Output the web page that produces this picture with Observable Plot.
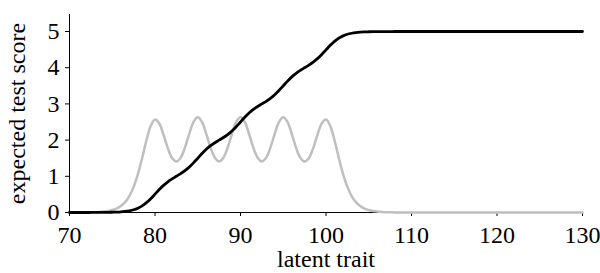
<!DOCTYPE html>
<html><head><meta charset="utf-8">
<script src="https://cdn.jsdelivr.net/npm/d3@7"></script>
<script src="https://cdn.jsdelivr.net/npm/@observablehq/plot@0.6"></script>
<style>body{margin:0;background:#fff} svg{display:block}</style>
</head><body><div id="chart"></div>
<script>
const trait = [70,70.5,71,71.5,72,72.5,73,73.5,74,74.5,75,75.5,76,76.5,77,77.5,78,78.5,79,79.5,
  80,80.5,81,81.5,82,82.5,83,83.5,84,84.5,85,85.5,86,86.5,87,87.5,88,88.5,89,89.5,
  90,90.5,91,91.5,92,92.5,93,93.5,94,94.5,95,95.5,96,96.5,97,97.5,98,98.5,99,99.5,
  100,100.5,101,101.5,102,102.5,103,103.5,104,104.5,105,105.5,106,106.5,107,107.5,108,108.5,109,109.5,110,130];
const information = [0.000,0.001,0.001,0.002,0.003,0.006,0.009,0.015,0.025,0.041,0.067,0.109,0.178,0.287,0.455,0.707,1.059,1.507,1.991,2.391,
  2.567,2.459,2.144,1.778,1.505,1.408,1.511,1.791,2.167,2.499,2.634,2.500,2.169,1.793,1.514,1.413,1.514,1.793,2.169,2.500,
  2.634,2.500,2.169,1.793,1.514,1.413,1.514,1.793,2.169,2.500,2.634,2.499,2.167,1.791,1.511,1.408,1.505,1.778,2.144,2.459,
  2.567,2.391,1.991,1.507,1.059,0.707,0.455,0.287,0.178,0.109,0.067,0.041,0.025,0.015,0.009,0.006,0.003,0.002,0.001,0.001,0.000,0.000];
const expectedScore = [0.000,0.000,0.000,0.000,0.000,0.001,0.001,0.002,0.002,0.004,0.007,0.011,0.018,0.030,0.048,0.076,0.120,0.184,0.271,0.382,
  0.507,0.634,0.749,0.847,0.929,1.001,1.073,1.155,1.253,1.371,1.500,1.629,1.747,1.846,1.928,2.000,2.072,2.154,2.253,2.371,
  2.500,2.629,2.747,2.846,2.928,3.000,3.072,3.154,3.253,3.371,3.500,3.629,3.747,3.845,3.927,3.999,4.071,4.153,4.251,4.367,
  4.493,4.618,4.729,4.816,4.880,4.924,4.952,4.971,4.982,4.989,4.993,4.996,4.998,4.998,4.999,4.999,5.000,5.000,5.000,5.000,5.000,5.000];
const xTicks = [70,80,90,100,110,120,130];
const yTicks = [0,1,2,3,4,5];
const xLabel = "latent trait";
const yLabel = "expected test score";

const rows = trait.map((t, i) => ({t, info: information[i], score: expectedScore[i]}));
const font = "'Liberation Serif', 'Times New Roman', serif";

const chart = Plot.plot({
  width: 600, height: 273,
  marginLeft: 69, marginRight: 18, marginTop: 14, marginBottom: 61,
  style: {fontFamily: font, fontSize: "24px", background: "#fff", color: "#000"},
  x: {domain: [70, 130]},
  y: {domain: [0, 5.47]},
  marks: [
    Plot.axisX({ticks: xTicks, tickFormat: d => String(d), tickSize: 4, tickPadding: 9, label: null, fontSize: 24}),
    Plot.axisY({ticks: yTicks, tickFormat: d => String(d), tickSize: 4, tickPadding: 6, label: null, fontSize: 24}),
    Plot.ruleY([0], {stroke: "#000", strokeWidth: 1}),
    Plot.ruleX([70], {stroke: "#000", strokeWidth: 1}),
    Plot.line(rows, {x: "t", y: "info", stroke: "#bfbfbf", strokeWidth: 2.5, curve: "catmull-rom"}),
    Plot.line(rows, {x: "t", y: "score", stroke: "#000", strokeWidth: 2.8, curve: "catmull-rom"}),
    Plot.text([xLabel], {text: d => d, frameAnchor: "bottom", textAnchor: "middle", dy: 54, lineAnchor: "bottom", fontSize: 24}),
    Plot.text([yLabel], {text: d => d, frameAnchor: "left", textAnchor: "middle", rotate: -90, dx: -45, lineAnchor: "bottom", fontSize: 24})
  ]
});
document.getElementById("chart").appendChild(chart);
</script>
</body></html>
